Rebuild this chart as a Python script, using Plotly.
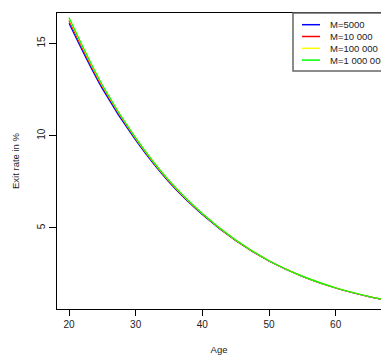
import plotly.graph_objects as go

ages = [20, 25, 30, 35, 40, 45, 50, 55, 60, 65, 67]
m5000 = [16.10, 12.55, 9.75, 7.48, 5.72, 4.31, 3.20, 2.37, 1.74, 1.27, 1.12]
m10000 = [16.25, 12.65, 9.82, 7.52, 5.75, 4.32, 3.21, 2.37, 1.74, 1.27, 1.12]
m100000 = [16.35, 12.72, 9.87, 7.56, 5.77, 4.34, 3.22, 2.38, 1.75, 1.28, 1.13]
m1000000 = [16.40, 12.75, 9.88, 7.57, 5.78, 4.34, 3.22, 2.38, 1.75, 1.28, 1.13]

series = [
    ("M=5000", m5000, "#0000FF"),
    ("M=10 000", m10000, "#FF0000"),
    ("M=100 000", m100000, "#FFFF00"),
    ("M=1 000 000", m1000000, "#00FF00"),
]

x_ticks = [20, 30, 40, 50, 60]
y_ticks = [5, 10, 15]

FONT = "Liberation Sans, Arial, sans-serif"

W, H = 381, 355
ML, MT, MB, MR = 57, 13, 46, 0
PW, PH = W - ML - MR, H - MT - MB


def px(xp):
    return (xp - ML) / PW


def py(yp):
    return (H - MB - yp) / PH


fig = go.Figure()
for name, vals, col in series:
    fig.add_trace(go.Scatter(x=ages, y=vals, mode="lines", name=name, showlegend=False,
                             line=dict(color=col, width=1.2, shape="spline")))

# manual legend (R-style, compact rows)
shapes = [dict(type="rect", xref="paper", yref="paper", layer="above",
               x0=px(293), x1=px(420), y0=py(71), y1=py(13),
               fillcolor="white", line=dict(color="#666", width=1.5))]
annotations = []
row_y = [24.7, 36.5, 48.3, 60.1]
for (name, vals, col), ry in zip(series, row_y):
    shapes.append(dict(type="line", xref="paper", yref="paper", layer="above",
                       x0=px(302), x1=px(320), y0=py(ry), y1=py(ry),
                       line=dict(color=col, width=1.5)))
    annotations.append(dict(xref="paper", yref="paper", x=px(328), y=py(ry),
                            xanchor="left", yanchor="middle", text=name, showarrow=False,
                            font=dict(family=FONT, size=9.5, color="#222")))

fig.update_layout(
    width=W, height=H,
    margin=dict(l=ML, r=MR, t=MT, b=MB, autoexpand=False),
    paper_bgcolor="white", plot_bgcolor="white",
    font=dict(family=FONT, size=10, color="#222"),
    showlegend=False,
    shapes=shapes,
    annotations=annotations,
    xaxis=dict(range=[18.2, 66.8], tickvals=x_ticks, showgrid=False, zeroline=False,
               showline=True, linecolor="black", linewidth=1.2, mirror=True,
               ticks="outside", ticklen=6, tickcolor="black",
               title=dict(text="Age", font=dict(size=9.5), standoff=21)),
    yaxis=dict(range=[0.6, 16.65], tickvals=y_ticks, showgrid=False, zeroline=False,
               showline=True, linecolor="black", linewidth=1.2,
               ticks="outside", ticklen=7, tickcolor="black", tickangle=-90,
               title=dict(text="Exit rate in %", font=dict(size=9.5), standoff=14)),
)

fig.write_html("out.html")
